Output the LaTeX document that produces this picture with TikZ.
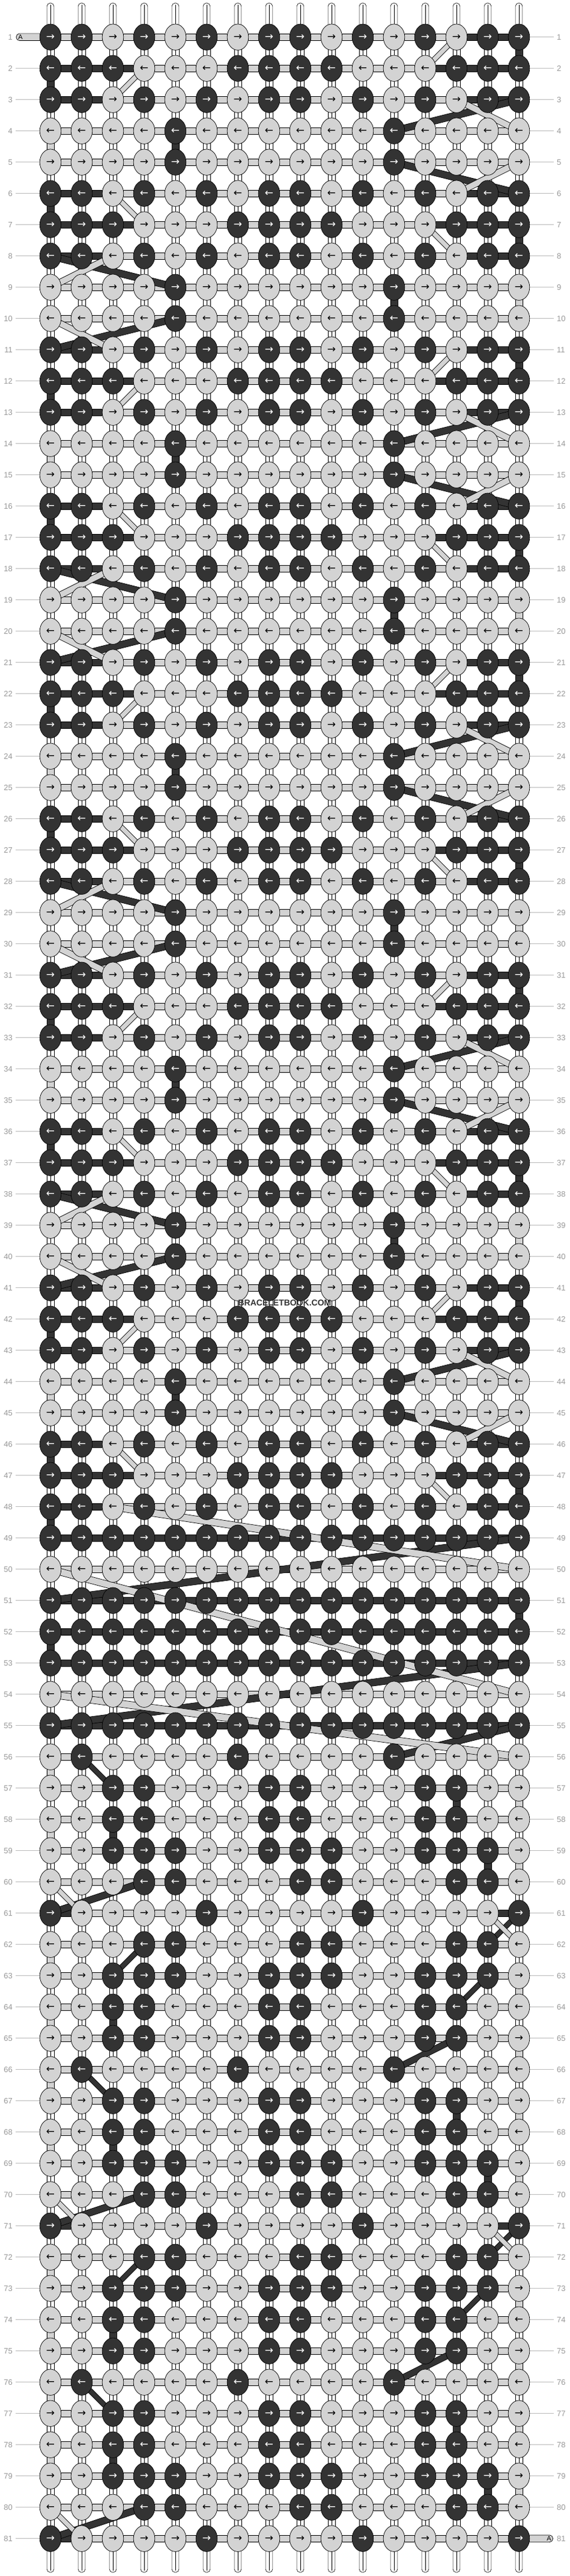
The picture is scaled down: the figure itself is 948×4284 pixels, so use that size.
\documentclass[tikz,border=0pt]{standalone}
\usepackage{fontspec}
\setmainfont{Liberation Sans}
\newfontfamily\arrfont{DejaVu Sans}
\usetikzlibrary{shapes.geometric}
\pgfdeclarelayer{bglayer}
\pgfdeclarelayer{baselayer}
\pgfdeclarelayer{hzlayer}
\pgfdeclarelayer{dglayer}
\pgfsetlayers{bglayer,baselayer,hzlayer,dglayer,main}
\definecolor{lt}{HTML}{D3D3D3}
\definecolor{dk}{HTML}{333333}
\definecolor{numgray}{HTML}{999999}
\definecolor{linegray}{HTML}{BBBBBB}

\ExplSyntaxOn
\intarray_new:Nn \g_bb_knot_intarray { 1296 }
\intarray_new:Nn \g_bb_gap_intarray { 1377 }
\intarray_new:Nn \g_bb_fa_intarray { 81 }
\intarray_new:Nn \g_bb_la_intarray { 81 }
\intarray_new:Nn \g_bb_fb_intarray { 81 }
\intarray_new:Nn \g_bb_lb_intarray { 81 }
\intarray_new:Nn \g_bb_na_intarray { 81 }
\intarray_new:Nn \g_bb_nb_intarray { 81 }
\tl_new:N \l_bb_row_tl
\int_new:N \l_bb_fa_int
\int_new:N \l_bb_la_int
\int_new:N \l_bb_fb_int
\int_new:N \l_bb_lb_int
\int_new:N \l_bb_col_int
\int_new:N \l_bb_v_int
\int_new:N \l_bb_loa_int
\int_new:N \l_bb_hia_int
\int_new:N \l_bb_lob_int
\int_new:N \l_bb_hib_int
\int_new:N \l_bb_g_int
\int_new:N \l_bb_nexta_int
\int_new:N \l_bb_nextb_int

\cs_new_protected:Npn \bb_set_row:n #1
  {
    \int_compare:nNnTF {#1} < { 49 }
      {
        \int_case:nn { \int_mod:nn { #1 - 1 } { 5 } }
          {
            {0} { \tl_set:Nn \l_bb_row_tl {1101010110101011} }
            {1} { \tl_set:Nn \l_bb_row_tl {1110001111000111} }
            {2} { \tl_set:Nn \l_bb_row_tl {1101010110101011} }
            {3} { \tl_set:Nn \l_bb_row_tl {0000100000010000} }
            {4} { \tl_set:Nn \l_bb_row_tl {0000100000010000} }
          }
      }
      {
        \int_compare:nNnTF {#1} < { 56 }
          {
            \int_case:nn {#1}
              {
                {49} { \tl_set:Nn \l_bb_row_tl {1111111111111111} }
                {50} { \tl_set:Nn \l_bb_row_tl {0000000000000000} }
                {51} { \tl_set:Nn \l_bb_row_tl {1111111111111111} }
                {52} { \tl_set:Nn \l_bb_row_tl {1111111111111111} }
                {53} { \tl_set:Nn \l_bb_row_tl {1111111111111111} }
                {54} { \tl_set:Nn \l_bb_row_tl {0000000000000000} }
                {55} { \tl_set:Nn \l_bb_row_tl {1111111111111111} }
              }
          }
          {
            \int_case:nn { \int_mod:nn { #1 - 56 } { 10 } }
              {
                {0} { \tl_set:Nn \l_bb_row_tl {0100001000010000} }
                {1} { \tl_set:Nn \l_bb_row_tl {0011000110001100} }
                {2} { \tl_set:Nn \l_bb_row_tl {0011000110001100} }
                {3} { \tl_set:Nn \l_bb_row_tl {0011100111001110} }
                {4} { \tl_set:Nn \l_bb_row_tl {0001100011000110} }
                {5} { \tl_set:Nn \l_bb_row_tl {1000010000100001} }
                {6} { \tl_set:Nn \l_bb_row_tl {0001100011000110} }
                {7} { \tl_set:Nn \l_bb_row_tl {0011100111001110} }
                {8} { \tl_set:Nn \l_bb_row_tl {0011000110001100} }
                {9} { \tl_set:Nn \l_bb_row_tl {0011000110001100} }
              }
          }
      }
  }

\cs_new_protected:Npn \bb_compute_row:n #1
  {
    \bb_set_row:n {#1}
    \int_zero:N \l_bb_fa_int
    \int_zero:N \l_bb_la_int
    \int_zero:N \l_bb_fb_int
    \int_zero:N \l_bb_lb_int
    \int_step_inline:nn { 16 }
      {
        \int_set:Nn \l_bb_col_int { \int_if_odd:nTF {#1} {##1} { 17 - ##1 } }
        \int_set:Nn \l_bb_v_int { \tl_item:Nn \l_bb_row_tl { \l_bb_col_int } }
        \intarray_gset:Nnn \g_bb_knot_intarray { (#1 - 1) * 16 + \l_bb_col_int } { \l_bb_v_int }
        \int_compare:nNnTF { \l_bb_v_int } = { 1 }
          {
            \int_compare:nNnT { \l_bb_fb_int } = { 0 } { \int_set_eq:NN \l_bb_fb_int \l_bb_col_int }
            \int_set_eq:NN \l_bb_lb_int \l_bb_col_int
          }
          {
            \int_compare:nNnT { \l_bb_fa_int } = { 0 } { \int_set_eq:NN \l_bb_fa_int \l_bb_col_int }
            \int_set_eq:NN \l_bb_la_int \l_bb_col_int
          }
      }
    \intarray_gset:Nnn \g_bb_fa_intarray {#1} { \l_bb_fa_int }
    \intarray_gset:Nnn \g_bb_la_intarray {#1} { \l_bb_la_int }
    \intarray_gset:Nnn \g_bb_fb_intarray {#1} { \l_bb_fb_int }
    \intarray_gset:Nnn \g_bb_lb_intarray {#1} { \l_bb_lb_int }
    \int_compare:nNnTF { \l_bb_fa_int } > { 0 }
      {
        \int_set:Nn \l_bb_loa_int { \int_min:nn { \l_bb_fa_int } { \l_bb_la_int } }
        \int_set:Nn \l_bb_hia_int { \int_max:nn { \l_bb_fa_int } { \l_bb_la_int } }
      }
      {
        \int_set:Nn \l_bb_loa_int { 99 }
        \int_set:Nn \l_bb_hia_int { -1 }
      }
    \int_compare:nNnT {#1} = { 1 } { \int_zero:N \l_bb_loa_int }
    \int_compare:nNnT {#1} = { 81 } { \int_set:Nn \l_bb_hia_int { 17 } }
    \int_compare:nNnTF { \l_bb_fb_int } > { 0 }
      {
        \int_set:Nn \l_bb_lob_int { \int_min:nn { \l_bb_fb_int } { \l_bb_lb_int } }
        \int_set:Nn \l_bb_hib_int { \int_max:nn { \l_bb_fb_int } { \l_bb_lb_int } }
      }
      {
        \int_set:Nn \l_bb_lob_int { 99 }
        \int_set:Nn \l_bb_hib_int { -1 }
      }
    \int_step_inline:nnn { 0 } { 16 }
      {
        \int_compare:nTF { \l_bb_loa_int <= ##1 < \l_bb_hia_int }
          { \int_set:Nn \l_bb_g_int { 2 } }
          {
            \int_compare:nTF { \l_bb_lob_int <= ##1 < \l_bb_hib_int }
              { \int_set:Nn \l_bb_g_int { 1 } }
              { \int_zero:N \l_bb_g_int }
          }
        \intarray_gset:Nnn \g_bb_gap_intarray { (#1 - 1) * 17 + ##1 + 1 } { \l_bb_g_int }
      }
  }

\int_step_inline:nn { 81 } { \bb_compute_row:n {#1} }

\int_zero:N \l_bb_nexta_int
\int_zero:N \l_bb_nextb_int
\int_step_inline:nnnn { 81 } { -1 } { 1 }
  {
    \intarray_gset:Nnn \g_bb_na_intarray {#1} { \l_bb_nexta_int }
    \intarray_gset:Nnn \g_bb_nb_intarray {#1} { \l_bb_nextb_int }
    \int_compare:nNnT { \intarray_item:Nn \g_bb_fa_intarray {#1} } > { 0 }
      { \int_set:Nn \l_bb_nexta_int {#1} }
    \int_compare:nNnT { \intarray_item:Nn \g_bb_fb_intarray {#1} } > { 0 }
      { \int_set:Nn \l_bb_nextb_int {#1} }
  }

\cs_new:Npn \kv #1#2 { \intarray_item:Nn \g_bb_knot_intarray { (#1 - 1) * 16 + #2 } }
\cs_new:Npn \gapv #1#2 { \intarray_item:Nn \g_bb_gap_intarray { (#1 - 1) * 17 + #2 + 1 } }
\cs_new:Npn \fA #1 { \intarray_item:Nn \g_bb_fa_intarray {#1} }
\cs_new:Npn \lA #1 { \intarray_item:Nn \g_bb_la_intarray {#1} }
\cs_new:Npn \fB #1 { \intarray_item:Nn \g_bb_fb_intarray {#1} }
\cs_new:Npn \lB #1 { \intarray_item:Nn \g_bb_lb_intarray {#1} }
\cs_new:Npn \nA #1 { \intarray_item:Nn \g_bb_na_intarray {#1} }
\cs_new:Npn \nB #1 { \intarray_item:Nn \g_bb_nb_intarray {#1} }
\ExplSyntaxOff

\begin{document}
\begin{tikzpicture}[x=1pt,y=-1pt,
  knot/.style={ellipse, draw=black, line width=0.7pt, minimum width=35.6pt, minimum height=43.4pt, inner sep=0pt, font=\arrfont\fontsize{17}{17}\selectfont},
  lknot/.style={knot, fill=lt, text=black},
  dknot/.style={knot, fill=dk, text=white},
  strand/.style={draw=black, fill=white, line width=0.6pt},
  midline/.style={draw=black, line width=0.45pt},
  lseg/.style={draw=black, fill=lt, line width=0.7pt},
  dseg/.style={draw=black, fill=dk, line width=0.7pt},
  rownum/.style={font=\fontsize{13}{13}\selectfont, text=numgray, inner sep=0pt},
  gline/.style={draw=linegray, line width=0.8pt},
  alab/.style={font=\fontsize{11}{11}\selectfont, inner sep=0pt, text=black}]
\useasboundingbox (0,0) rectangle (948,4284);
\begin{pgfonlayer}{bglayer}
\fill[white] (0,0) rectangle (948,4284);
\end{pgfonlayer}

% knots
\foreach \r in {1,...,81}{
  \foreach \c in {1,...,16}{
    \ifnum\kv{\r}{\c}=1 \def\kst{dknot}\else\def\kst{lknot}\fi
    \ifodd\r \def\arr{→}\else\def\arr{←}\fi
    \node[\kst] (k-\r-\c) at ({84+52*(\c-1)},{61.7+52*(\r-1)}) {\arr};
  }
}

% row numbers
\foreach \r in {1,...,81}{
  \node[rownum, anchor=east] (ln-\r) at (21,{61.7+52*(\r-1)}) {\r};
  \node[rownum, anchor=west] (rn-\r) at (927,{61.7+52*(\r-1)}) {\r};
}

% A labels and watermark
\node[alab] (inA) at (34,61.7) {A};
\node[alab] (outA) at (914,4221.7) {A};
\node[font=\bfseries\fontsize{14}{14}\selectfont, text=dk, inner sep=1pt] (wm) at (474,2167) {BRACELETBOOK.COM};

% base strands and guide lines
\begin{pgfonlayer}{baselayer}
\foreach \c in {1,...,16}{
  \coordinate (top-\c) at ({84+52*(\c-1)},5);
  \coordinate (bot-\c) at ({84+52*(\c-1)},4278);
  \draw[strand, rounded corners=5.5pt] ([xshift=-5.85pt]top-\c) rectangle ([xshift=5.85pt]k-1-\c.center);
  \draw[midline] ([yshift=-3pt]top-\c) -- (k-1-\c.center);
  \draw[strand, rounded corners=5.5pt] ([xshift=-5.85pt]k-81-\c.center) rectangle ([xshift=5.85pt]bot-\c);
  \draw[midline] (k-81-\c.center) -- ([yshift=3pt]bot-\c);
}
\foreach \r [evaluate=\r as \rn using int(\r+1)] in {1,...,80}{
  \foreach \c in {1,...,16}{
    \draw[strand] ([xshift=-5.85pt]k-\r-\c.center) rectangle ([xshift=5.85pt]k-\rn-\c.center);
    \draw[midline] (k-\r-\c.center) -- (k-\rn-\c.center);
  }
}
\foreach \r in {2,...,81}{
  \draw[gline] ([xshift=5pt]ln-\r.east) -- (k-\r-1.center);
}
\foreach \r in {1,...,80}{
  \draw[gline] (k-\r-16.center) -- ([xshift=-5pt]rn-\r.west);
}
\end{pgfonlayer}

% horizontal segments and vertical string turns
\begin{pgfonlayer}{hzlayer}
\coordinate (la) at (27,61.7);
\coordinate (ra) at (920.5,4221.7);
\draw[lseg, rounded corners=5.5pt] ([yshift=5.85pt]la) rectangle ([yshift=-5.85pt]k-1-1.center);
\draw[lseg, rounded corners=5.5pt] ([yshift=5.85pt]k-81-16.center) rectangle ([yshift=-5.85pt]ra);
\foreach \r in {1,...,81}{
  \foreach \j [evaluate=\j as \jn using int(\j+1)] in {1,...,15}{
    \ifcase\gapv{\r}{\j} \or
      \draw[dseg] ([yshift=5.85pt]k-\r-\j.center) rectangle ([yshift=-5.85pt]k-\r-\jn.center);
    \or
      \draw[lseg] ([yshift=5.85pt]k-\r-\j.center) rectangle ([yshift=-5.85pt]k-\r-\jn.center);
    \fi
  }
}
\foreach \r in {1,...,80}{
  \ifnum\fB{\r}>0
    \edef\rb{\nB{\r}}\edef\ca{\lB{\r}}
    \ifnum\rb=\numexpr\r+1\relax
      \edef\cb{\fB{\rb}}
      \ifnum\ca=\cb\relax
        \draw[dseg] ([xshift=-5.85pt]k-\r-\ca.center) rectangle ([xshift=5.85pt]k-\rb-\cb.center);
      \fi
    \fi
  \fi
  \ifnum\fA{\r}>0
    \edef\rb{\nA{\r}}\edef\ca{\lA{\r}}
    \ifnum\rb=\numexpr\r+1\relax
      \edef\cb{\fA{\rb}}
      \ifnum\ca=\cb\relax
        \draw[lseg] ([xshift=-5.85pt]k-\r-\ca.center) rectangle ([xshift=5.85pt]k-\rb-\cb.center);
      \fi
    \fi
  \fi
}
\end{pgfonlayer}

% diagonal carries
\begin{pgfonlayer}{dglayer}
\foreach \r in {1,...,80}{
  \ifnum\fB{\r}>0
    \edef\rb{\nB{\r}}
    \ifnum\rb>0
      \edef\ca{\lB{\r}}\edef\cb{\fB{\rb}}
      \def\isvert{0}
      \ifnum\rb=\numexpr\r+1\relax \ifnum\ca=\cb\relax \def\isvert{1}\fi\fi
      \ifnum\isvert=0
        \draw[dseg] ([yshift=5.85pt]k-\r-\ca.center) -- ([yshift=5.85pt]k-\rb-\cb.center) -- ([yshift=-5.85pt]k-\rb-\cb.center) -- ([yshift=-5.85pt]k-\r-\ca.center) -- cycle;
      \fi
    \fi
  \fi
}
\foreach \r in {1,...,80}{
  \ifnum\fA{\r}>0
    \edef\rb{\nA{\r}}
    \ifnum\rb>0
      \edef\ca{\lA{\r}}\edef\cb{\fA{\rb}}
      \def\isvert{0}
      \ifnum\rb=\numexpr\r+1\relax \ifnum\ca=\cb\relax \def\isvert{1}\fi\fi
      \ifnum\isvert=0
        \draw[lseg] ([yshift=5.85pt]k-\r-\ca.center) -- ([yshift=5.85pt]k-\rb-\cb.center) -- ([yshift=-5.85pt]k-\rb-\cb.center) -- ([yshift=-5.85pt]k-\r-\ca.center) -- cycle;
      \fi
    \fi
  \fi
}
\end{pgfonlayer}
\end{tikzpicture}
\end{document}
